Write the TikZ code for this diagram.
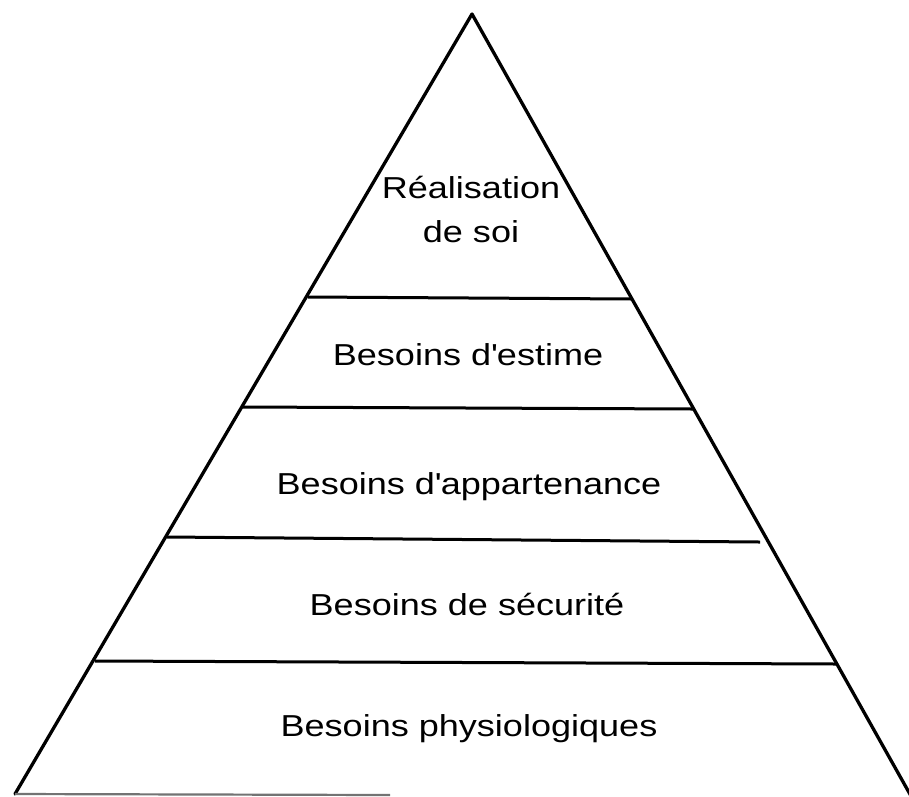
\documentclass[tikz,border=0pt]{standalone}
\usepackage{fontspec}
\setmainfont{Liberation Sans}[FakeStretch=1.19]
\begin{document}
\begin{tikzpicture}[x=1pt,y=-1pt,
  edge/.style={line width=3.3pt,line cap=round,line join=round},
  lvl/.style={line width=3pt},
  lbl/.style={anchor=base,inner sep=0pt,font=\fontsize{30.3}{44}\selectfont}]
\useasboundingbox (0,0) rectangle (909,796);
\clip (0,0) rectangle (909,796);
% corners
\coordinate (apex) at (472,14);
\coordinate (bl) at (15,794);
\coordinate (br) at (911,796);
% level line ends
\coordinate (a1) at (308,297); \coordinate (b1) at (632,299);
\coordinate (a2) at (243,407); \coordinate (b2) at (693,409);
\coordinate (a3) at (167,537); \coordinate (b3) at (760,542);
\coordinate (a4) at (95,661);  \coordinate (b4) at (837,664);
\coordinate (g1) at (390,795);
% outline
\draw[edge] (bl) -- (apex) -- (br);
\draw[line width=2.2pt,black!55] (bl) -- (g1);
% levels
\draw[lvl] (a1) -- (b1);
\draw[lvl] (a2) -- (b2);
\draw[lvl] (a3) -- (b3);
\draw[lvl] (a4) -- (b4);
% labels
\node[lbl] (t1) at (471,198) {Réalisation};
\node[lbl] (t1b) at (471,242) {de soi};
\node[lbl] (t2) at (468,365) {Besoins d\textquotesingle estime};
\node[lbl] (t3) at (469,494) {Besoins d\textquotesingle appartenance};
\node[lbl] (t4) at (467,615) {Besoins de sécurité};
\node[lbl] (t5) at (469,736) {Besoins physiologiques};
\end{tikzpicture}
\end{document}
